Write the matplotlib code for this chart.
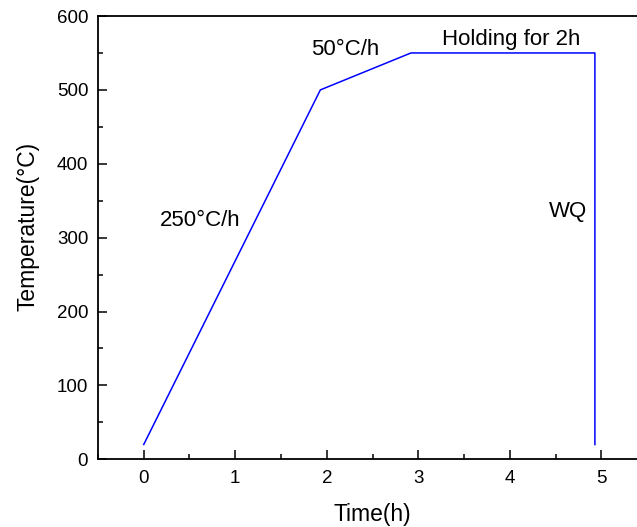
import numpy as np
import matplotlib.pyplot as plt
from matplotlib.ticker import MultipleLocator

plt.rcParams['font.family'] = ['Liberation Sans', 'DejaVu Sans']

# heat treatment schedule
time_h = [0, 1.93, 2.92, 4.93, 4.93]
temp_c = [20, 500, 550, 550, 20]

labels = ["250°C/h", "50°C/h", "Holding for 2h", "WQ"]
label_x = [0.62, 2.2, 4.01, 4.64]
label_y = [323, 555, 568, 335]

fig = plt.figure(figsize=(6.37, 5.27), dpi=100)
ax = fig.add_axes([0.1538, 0.1285, 0.862, 0.8411])

ax.plot(time_h, temp_c, color='#0000ff', linewidth=1.1)

for t, x, y in zip(labels, label_x, label_y):
    ax.text(x, y, t, fontsize=16, ha='center', va='center')

ax.set_xlim(-0.5, 5.5)
ax.set_ylim(0, 600)
ax.xaxis.set_major_locator(MultipleLocator(1))
ax.xaxis.set_minor_locator(MultipleLocator(0.5))
ax.yaxis.set_major_locator(MultipleLocator(100))
ax.yaxis.set_minor_locator(MultipleLocator(50))
ax.tick_params(which='both', direction='in', labelsize=13.5, width=1.1)
ax.tick_params(which='major', length=6.5)
ax.tick_params(which='minor', length=3.4)
ax.tick_params(axis='x', pad=8)
ax.tick_params(axis='y', pad=7)
for s in ax.spines.values():
    s.set_linewidth(1.3)

ax.set_xlabel('Time(h)', fontsize=16.5, labelpad=11)
ax.set_ylabel('Temperature(°C)', fontsize=16.5, labelpad=12.5, y=0.526)

fig.savefig('out.png', dpi=100)
